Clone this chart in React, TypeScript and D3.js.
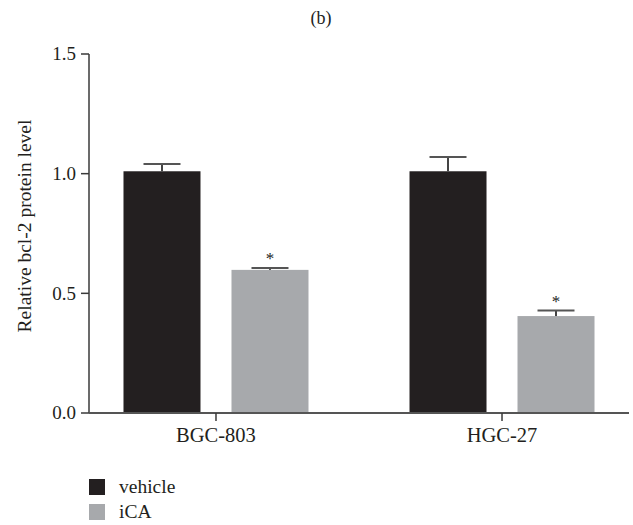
import * as d3 from "d3";

const cellLines = ["BGC-803", "HGC-27"];
const seriesNames = ["vehicle", "iCA"];
const vehicleMeans = [1.01, 1.01];
const vehicleErrors = [0.03, 0.06];
const icaMeans = [0.598, 0.405];
const icaErrors = [0.008, 0.023];
const yTicks = [0, 0.5, 1.0, 1.5];
const seriesColors = ["#231f20", "#a7a9ac"];

const W = 633;
const H = 525;
const font = "'Liberation Serif', 'Times New Roman', serif";

export default function App() {
  const left = 89;
  const right = 629;
  const top = 54;
  const bottom = 413;

  const y = d3.scaleLinear().domain([0, 1.5]).range([bottom, top]);
  const x = d3.scalePoint<string>().domain(cellLines).range([left, right]).padding(0.444);
  const inner = d3
    .scaleBand<string>()
    .domain(seriesNames)
    .range([-92.5, 92.5])
    .paddingInner(0.287)
    .paddingOuter(0);

  const bars = cellLines.flatMap((c, i) => [
    { cell: c, series: "vehicle", mean: vehicleMeans[i], err: vehicleErrors[i], star: false },
    { cell: c, series: "iCA", mean: icaMeans[i], err: icaErrors[i], star: true },
  ]);

  const axisColor = "#3a3a3a";

  return (
    <svg
      width={W}
      height={H}
      style={{ position: "absolute", left: 0, top: 0, background: "#fff" }}
      fontFamily={font}
    >
      <text x={321} y={24} fontSize={18} textAnchor="middle" fill="#222">
        (b)
      </text>

      {/* bars */}
      {bars.map((b, i) => {
        const bx = (x(b.cell) ?? 0) + (inner(b.series) ?? 0);
        const bw = inner.bandwidth();
        const cx = bx + bw / 2;
        const capY = y(b.mean + b.err);
        return (
          <g key={i}>
            <rect
              x={bx}
              y={y(b.mean)}
              width={bw}
              height={bottom - y(b.mean)}
              fill={seriesColors[seriesNames.indexOf(b.series)]}
            />
            <line x1={cx} x2={cx} y1={y(b.mean)} y2={capY} stroke="#444" strokeWidth={2} />
            <line x1={cx - 18.5} x2={cx + 18.5} y1={capY} y2={capY} stroke="#555" strokeWidth={2} />
            {b.star && (
              <text x={cx} y={capY - 4} fontSize={17} textAnchor="middle" fill="#222">
                *
              </text>
            )}
          </g>
        );
      })}

      {/* y axis */}
      <line x1={left} x2={left} y1={top} y2={bottom} stroke={axisColor} strokeWidth={1.5} />
      {yTicks.map((t) => (
        <g key={t}>
          <line x1={left - 8} x2={left} y1={y(t)} y2={y(t)} stroke={axisColor} strokeWidth={1.5} />
          <text
            x={left - 13}
            y={y(t)}
            dy="0.33em"
            fontSize={19}
            textAnchor="end"
            fill="#231f20"
          >
            {t.toFixed(1)}
          </text>
        </g>
      ))}
      <text
        transform={`translate(31,226) rotate(-90)`}
        fontSize={19.5}
        textAnchor="middle"
        fill="#231f20"
      >
        Relative bcl-2 protein level
      </text>

      {/* x axis */}
      <line x1={left} x2={right} y1={bottom} y2={bottom} stroke="#555" strokeWidth={2} />
      {cellLines.map((c) => (
        <g key={c}>
          <line x1={x(c)} x2={x(c)} y1={bottom} y2={bottom + 8} stroke={axisColor} strokeWidth={1.5} />
          <text x={x(c)} y={442} fontSize={20.5} textAnchor="middle" fill="#231f20">
            {c}
          </text>
        </g>
      ))}

      {/* legend */}
      {seriesNames.map((s, i) => (
        <g key={s} transform={`translate(89,${479 + i * 25})`}>
          <rect x={0} y={0} width={16} height={16} fill={seriesColors[i]} />
          <text x={30} y={14} fontSize={19.5} fill="#231f20">
            {s}
          </text>
        </g>
      ))}
    </svg>
  );
}
